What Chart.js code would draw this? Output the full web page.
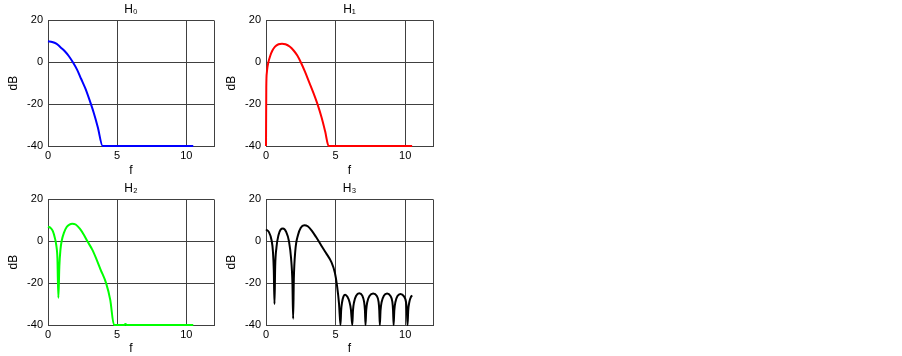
<!DOCTYPE html>
<html>
<head>
<meta charset="utf-8">
<script src="https://cdn.jsdelivr.net/npm/chart.js@4/dist/chart.umd.min.js"></script>
<style>
  body { margin: 0; background: #fff; width: 902px; height: 356px; overflow: hidden; position: relative; }
  canvas { position: absolute; }
</style>
</head>
<body>
<canvas id="h0" width="220" height="178" style="left:0;top:0"></canvas>
<canvas id="h1" width="221" height="178" style="left:218px;top:0"></canvas>
<canvas id="h2" width="220" height="177" style="left:0;top:179px"></canvas>
<canvas id="h3" width="221" height="177" style="left:218px;top:179px"></canvas>
<script>
// values (f, dB)
const freqH0 = [0, 0.3, 0.6, 0.9, 1.2, 1.5, 1.8, 2.1, 2.4, 2.7, 3.0, 3.3, 3.6, 3.95, 4.2, 6, 8, 10.5];
const dbH0 = [10, 9.7, 8.9, 7.2, 5.4, 3.0, 0, -3.5, -8, -12.5, -18, -24, -31, -40, -40, -40, -40, -40];

const freqH1 = [0, 0.02, 0.06, 0.1, 0.17, 0.3, 0.45, 0.65, 0.9, 1.15, 1.4, 1.7, 2.0, 2.25, 2.5, 2.8, 3.1, 3.4, 3.7, 4.0, 4.25, 4.5, 6, 8, 10.5];
const dbH1 = [-40, -12, -5, -2.5, 0, 3, 5.5, 7.5, 8.6, 8.9, 8.6, 7.5, 5.5, 3.2, 0, -4.5, -9.5, -14.5, -20, -26.5, -33, -40, -40, -40, -40];

const freqH2 = [0, 0.2, 0.35, 0.5, 0.6, 0.68, 0.75, 0.82, 0.9, 1.0, 1.15, 1.35, 1.55, 1.75, 2.0, 2.3, 2.6, 2.85, 3.2, 3.5, 3.8, 4.2, 4.5, 4.77, 5.5, 5.6, 5.7, 8, 10.5];
const dbH2 = [7, 6.3, 4.8, 1.5, -2, -8, -27, -12, -4, 0.5, 4, 6.8, 8, 8.4, 8, 6, 3, 0, -4, -8.5, -13.5, -20, -28, -40, -40, -39.5, -40, -40, -40];

const freqH3 = [
  0, 0.2, 0.4, 0.5, 0.56, 0.61, 0.66, 0.75, 0.9, 1.05, 1.22, 1.45, 1.65, 1.8, 1.9, 1.95, 2.0, 2.1, 2.3, 2.5, 2.75,
  3.0, 3.3, 3.6, 3.97, 4.3, 4.7, 4.95, 5.11, 5.25, 5.35,
  5.4, 5.47, 5.57, 5.69, 5.85, 6.0, 6.1, 6.2,
  6.25, 6.33, 6.48, 6.7, 6.92, 7.05, 7.11, 7.15,
  7.2, 7.28, 7.45, 7.7, 7.95, 8.09, 8.14, 8.18,
  8.23, 8.31, 8.47, 8.7, 8.93, 9.08, 9.13, 9.17,
  9.22, 9.3, 9.45, 9.66, 9.9, 10.06, 10.12, 10.17,
  10.22, 10.3, 10.42, 10.5
];
const dbH3 = [
  5.6, 4.5, 0.5, -5, -14, -30, -12, -3, 3, 5.6, 6.1, 4.5, 0, -8, -20, -37, -18, -5, 3, 6.5, 7.7,
  7.2, 5, 2, -2, -5.5, -10, -15, -21.5, -30, -40,
  -33, -29, -26.3, -25.5, -26.5, -29, -32.5, -40,
  -33, -29, -26, -24.8, -26, -29, -33, -40,
  -33, -29, -26, -25, -26, -29, -33, -40,
  -33, -29, -26, -25, -26, -29, -33, -40,
  -33, -29, -26.2, -25.2, -26.2, -29, -33, -40,
  -33, -29, -26.5, -25.8
];

const xTickValues = [0, 5, 10, 12];
const xTickLabels = ['0', '5', '10', ''];
const yTickValues = [-40, -20, 0, 20];
const yTickLabels = ['-40', '-20', '0', '20'];

const gridColor = '#404040';
const textFont = { family: "'Liberation Sans', Arial, sans-serif", size: 11 };
const labelFont = { family: "'Liberation Sans', Arial, sans-serif", size: 12 };

function buildChart(id, title, freq, db, color, axisHeight) {
  const ctx = document.getElementById(id).getContext('2d');
  const points = freq.map((f, i) => ({ x: f, y: db[i] }));

  return new Chart(ctx, {
    type: 'line',
    data: {
      datasets: [{
        data: points,
        borderColor: color,
        borderWidth: 2,
        borderJoinStyle: 'round',
        cubicInterpolationMode: 'monotone',
        pointRadius: 0,
        fill: false,
        clip: false
      }]
    },
    options: {
      responsive: false,
      animation: false,
      devicePixelRatio: 1,
      layout: { padding: { right: 6 } },
      plugins: {
        legend: { display: false },
        tooltip: { enabled: false },
        title: {
          display: true,
          text: title,
          fullSize: false,
          color: '#000',
          font: { ...labelFont, weight: 'normal' },
          padding: { top: 2, bottom: 4 }
        }
      },
      scales: {
        x: {
          type: 'linear',
          min: 0,
          max: 12,
          afterBuildTicks: (s) => { s.ticks = xTickValues.map((v) => ({ value: v })); },
          afterFit: (s) => { s.height = axisHeight; },
          ticks: {
            autoSkip: false,
            maxRotation: 0,
            padding: 3,
            color: '#000',
            font: textFont,
            callback: (v, i) => xTickLabels[i]
          },
          grid: { color: gridColor, drawTicks: false },
          border: { color: gridColor },
          title: { display: true, text: 'f', color: '#000', font: labelFont, padding: { top: 0, bottom: 0 } }
        },
        y: {
          min: -40,
          max: 20,
          afterBuildTicks: (s) => { s.ticks = yTickValues.map((v) => ({ value: v })); },
          afterFit: (s) => { s.width = 48; },
          ticks: {
            autoSkip: false,
            padding: 5,
            color: '#000',
            font: textFont,
            callback: (v, i) => yTickLabels[i]
          },
          grid: { color: gridColor, drawTicks: false },
          border: { color: gridColor },
          title: { display: true, text: 'dB', color: '#000', font: labelFont, padding: { top: 6, bottom: 0 } }
        }
      }
    }
  });
}

buildChart('h0', 'H₀', freqH0, dbH0, '#0000ff', 32);
buildChart('h1', 'H₁', freqH1, dbH1, '#ff0000', 32);
buildChart('h2', 'H₂', freqH2, dbH2, '#00ff00', 31);
buildChart('h3', 'H₃', freqH3, dbH3, '#000000', 31);
</script>
</body>
</html>
